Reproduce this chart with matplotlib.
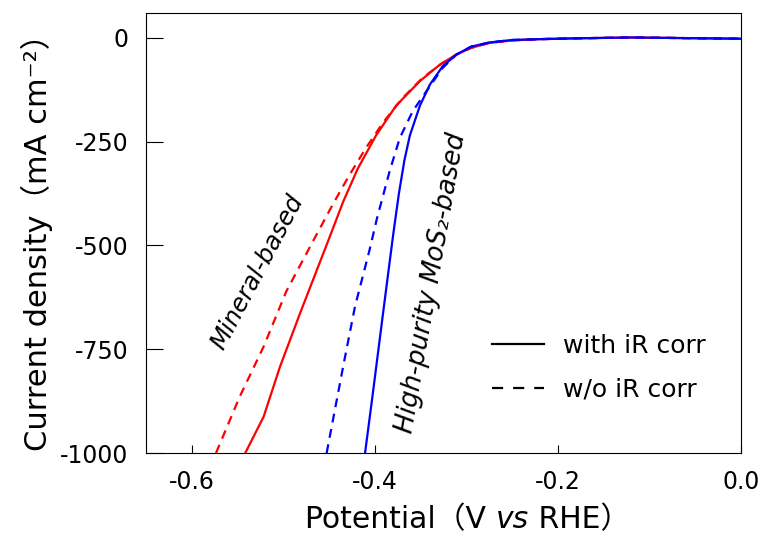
import matplotlib.pyplot as plt
import numpy as np

# polarisation curves, potential (V vs RHE) and current density (mA cm-2)
v_min_ir = [-0.542, -0.522, -0.504, -0.482, -0.451, -0.435, -0.419, -0.399, -0.377, -0.351,
            -0.329, -0.311, -0.295, -0.275, -0.25, -0.22, -0.18, -0.15, -0.12, -0.08, -0.04, 0.0]
j_min_ir = [-1000, -913, -792, -663, -487, -395, -315, -235, -163, -104,
            -64, -40, -24, -12, -6, -3, -1, 0, 1, 0, -1, -2]

v_min_raw = [-0.574, -0.548, -0.522, -0.497, -0.468, -0.446, -0.428, -0.410, -0.391, -0.370,
             -0.348, -0.326, -0.311, -0.295, -0.275, -0.25, -0.22, -0.18, -0.15, -0.12, -0.08, -0.04, 0.0]
j_min_raw = [-1000, -864, -744, -610, -490, -400, -330, -265, -203, -145,
             -96, -60, -40, -24, -12, -6, -3, -1, 0, 1, 0, -1, -2]

v_mos_ir = [-0.411, -0.402, -0.393, -0.386, -0.380, -0.374, -0.368, -0.362, -0.351, -0.340,
            -0.326, -0.311, -0.295, -0.275, -0.25, -0.22, -0.18, -0.15, -0.12, -0.08, -0.04, 0.0]
j_mos_ir = [-1000, -848, -692, -572, -470, -375, -295, -235, -163, -112,
            -68, -40, -21, -11, -5, -3, -1, 0, 1, 0, -1, -2]

v_mos_raw = [-0.453, -0.435, -0.422, -0.406, -0.398, -0.384, -0.373, -0.359, -0.340, -0.326,
             -0.311, -0.295, -0.275, -0.25, -0.22, -0.18, -0.15, -0.12, -0.08, -0.04, 0.0]
j_mos_raw = [-1000, -792, -647, -510, -435, -320, -241, -177, -116, -72,
             -40, -21, -11, -5, -3, -1, 0, 1, 0, -1, -2]

xticks = [-0.6, -0.4, -0.2, 0.0]
yticks = [0, -250, -500, -750, -1000]

plt.rcParams['font.family'] = ['DejaVu Sans', 'Noto Sans CJK SC']

fig = plt.figure(figsize=(7.67, 5.37), dpi=100)
ax = fig.add_axes([0.191, 0.1564, 0.775, 0.8194])

dash = (4, 3)
ax.plot(v_min_ir, j_min_ir, color='#ff0000', lw=1.6)
ax.plot(v_min_raw, j_min_raw, color='#ff0000', lw=1.6, dashes=dash)
ax.plot(v_mos_ir, j_mos_ir, color='#0000ff', lw=1.6)
ax.plot(v_mos_raw, j_mos_raw, color='#0000ff', lw=1.6, dashes=dash)

ax.set_xlim(-0.65, 0.0)
ax.set_ylim(-1000, 60)
ax.set_xticks(xticks)
ax.set_xticklabels(['%.1f' % t for t in xticks])
ax.set_yticks(yticks)
ax.set_yticklabels([str(t) for t in yticks])
ax.tick_params(axis='both', direction='in', labelsize=17, width=0.8)
ax.tick_params(axis='x', length=6, pad=12, top=False)
ax.tick_params(axis='y', length=12, pad=13, right=False)
for s in ax.spines.values():
    s.set_linewidth(0.8)

ax.set_ylabel('Current density（mA cm⁻²）', fontsize=22)
ax.yaxis.set_label_coords(-0.157, 0.495)

# x label in three pieces so that "vs" can be italic
t1 = fig.text(305 / 767, 0.016, 'Potential（V ', fontsize=21.5, ha='left', va='baseline')
t2 = ax.annotate('vs', xy=(1, 0), xycoords=t1, fontsize=21.5, style='italic',
                 ha='left', va='bottom')
t3 = ax.annotate(' RHE）', xy=(1, 0), xycoords=t2, fontsize=21.5, ha='left', va='bottom')

ax.text(-0.529, -564, 'Mineral-based', fontsize=17.5, style='italic',
        rotation=62, ha='center', va='center')
ax.text(-0.338, -590, 'High-purity MoS₂-based', fontsize=18.5, style='italic',
        rotation=80, ha='center', va='center')

h1, = ax.plot([], [], color='black', lw=1.6)
h2, = ax.plot([], [], color='black', lw=1.6, dashes=(5, 4.5))
ax.legend([h1, h2], ['with iR corr', 'w/o iR corr'], loc='center left',
          bbox_to_anchor=(0.581, 0.194), frameon=False, fontsize=18,
          borderpad=0, borderaxespad=0, handlelength=2.1, handletextpad=0.75,
          labelspacing=0.78)

fig.savefig('out.png', dpi=100)
